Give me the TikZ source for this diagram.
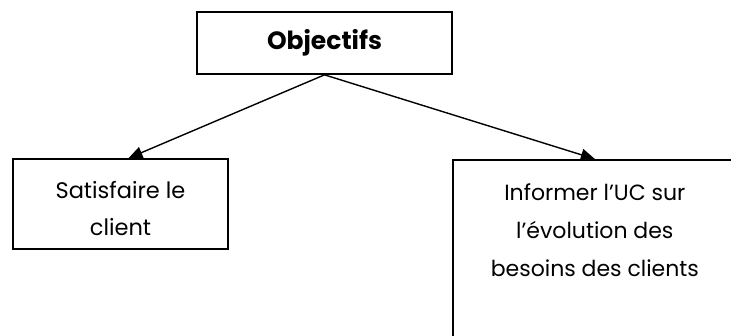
\documentclass[tikz,border=0pt]{standalone}
\usepackage{fontspec}
\setmainfont{Poppins}
\usetikzlibrary{arrows.meta, positioning}
\tikzset{
x=1pt, y=1pt,
>={Triangle[length=14pt,width=12pt]},
link/.style={->, line width=1.4pt},
box/.style={%
    rectangle,
    draw=black,
    line width=1.7pt,
    inner sep=0pt,
    align=center,
    font=\fontsize{22.5}{37}\selectfont
},
txt/.style={align=center, inner sep=0pt, font=\fontsize{22}{38}\selectfont},
}

\begin{document}
\begin{tikzpicture}
\clip (0,0) rectangle (731,336);

\node[box, minimum width=255pt, minimum height=62pt, font=\bfseries\fontsize{25}{26}\selectfont] (objectifs) at (324.5,293) {Objectifs};
\node[box, minimum width=215pt, minimum height=90pt, text height=68pt, text depth=5pt] (satisfaire) at (120.5,132) {Satisfaire le\\client};
\node[box, minimum width=284pt, minimum height=220pt, anchor=north west] (besoins) at (452,177) {};
\node[txt, below=24pt of besoins.north] (besoinstxt) {Informer l'UC sur\\l'évolution des\\besoins des clients};

\draw[link] (objectifs.south) -- ([xshift=8pt]satisfaire.north);
\draw[link] (objectifs.south) -- (besoins.north);

\end{tikzpicture}
\end{document}
